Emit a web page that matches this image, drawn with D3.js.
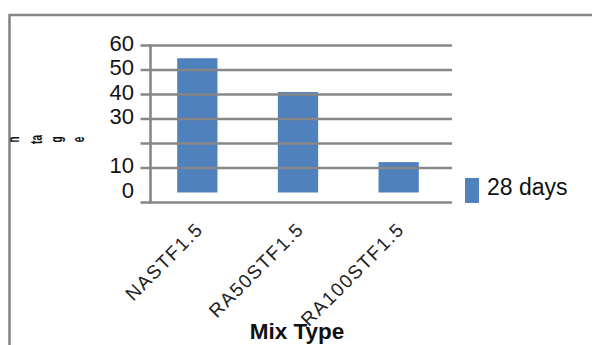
<!DOCTYPE html>
<html>
<head>
<meta charset="utf-8">
<script src="https://cdn.jsdelivr.net/npm/d3@7/dist/d3.min.js"></script>
<style>
  html, body { margin: 0; padding: 0; background: #fff; }
  svg { display: block; font-family: "Liberation Sans", Arial, sans-serif; }
</style>
</head>
<body>
<svg id="chart" width="592" height="345"></svg>
<script>
// Chart data
const categories = ["NASTF1.5", "RA50STF1.5", "RA100STF1.5"];
const values28 = [54.8, 41.0, 12.4];
const seriesName = "28 days";
const gridValues = [10, 20, 30, 40, 50, 60];
const tickLabels = [0, 10, 30, 40, 50, 60];
const yTitleParts = ["n", "ta", "g", "e"];
const xTitle = "Mix Type";

const svg = d3.select("#chart");
const gray = "#878787";
const blue = "#4f81bd";

// Outer frame (top and left edges)
svg.append("line").attr("x1", 9.5).attr("x2", 592).attr("y1", 15).attr("y2", 15)
  .attr("stroke", gray).attr("stroke-width", 2.6);
svg.append("line").attr("x1", 9.5).attr("x2", 9.5).attr("y1", 14).attr("y2", 345)
  .attr("stroke", gray).attr("stroke-width", 2.6);

// Scales
const y = d3.scaleLinear().domain([0, 60]).range([192.5, 45.5]);
const x = d3.scaleBand().domain(categories).range([147, 449])
  .paddingInner(0.6).paddingOuter(0.3);

const axisX = 150.5;
const gridRight = 452;
const baseY = y(0) + 10;

// Bars
svg.append("g").selectAll("rect").data(categories).join("rect")
  .attr("x", d => x(d))
  .attr("width", x.bandwidth())
  .attr("y", (d, i) => y(values28[i]))
  .attr("height", (d, i) => y(0) - y(values28[i]))
  .attr("fill", blue);

// Gridlines (drawn over the bars, extending left as tick marks)
svg.append("g").selectAll("line").data(gridValues).join("line")
  .attr("x1", axisX - 10).attr("x2", gridRight)
  .attr("y1", d => y(d)).attr("y2", d => y(d))
  .attr("stroke", gray).attr("stroke-width", 2.6);

// Category axis line
svg.append("line").attr("x1", axisX - 10).attr("x2", gridRight)
  .attr("y1", baseY).attr("y2", baseY)
  .attr("stroke", gray).attr("stroke-width", 2.6);

// Value axis line
svg.append("line").attr("x1", axisX).attr("x2", axisX)
  .attr("y1", y(60) - 1).attr("y2", baseY + 1)
  .attr("stroke", gray).attr("stroke-width", 2.6);

// Value tick labels
svg.append("g").selectAll("text").data(tickLabels).join("text")
  .attr("x", 134).attr("y", d => y(d) + 5)
  .attr("text-anchor", "end")
  .attr("font-size", 22).attr("fill", "#111")
  .text(d => d);

// Category labels, rotated
svg.append("g").selectAll("text").data(categories).join("text")
  .attr("transform", d => `translate(${x(d) + x.bandwidth() / 2 + 7},${baseY + 28}) rotate(-45)`)
  .attr("text-anchor", "end")
  .attr("font-size", 19).attr("letter-spacing", 1.5).attr("fill", "#222")
  .text(d => d);

// Axis title
svg.append("text").attr("x", 297).attr("y", 339)
  .attr("text-anchor", "middle").attr("font-size", 22.5).attr("font-weight", "bold")
  .attr("fill", "#111").text(xTitle);

// Vertical title fragments
const yTitleX = [14, 37, 57, 79];
svg.append("g").selectAll("text").data(yTitleParts).join("text")
  .attr("transform", (d, i) => `translate(${yTitleX[i]},139.5) rotate(-90) scale(1,1.6)`)
  .attr("text-anchor", "middle").attr("dominant-baseline", "central")
  .attr("font-size", 10).attr("font-weight", "bold").attr("fill", "#111")
  .text(d => d);

// Legend
const legend = svg.append("g").attr("transform", "translate(465,178)");
legend.append("rect").attr("width", 14).attr("height", 25).attr("fill", blue);
legend.append("text").attr("x", 22).attr("y", 16.5)
  .attr("font-size", 23).attr("fill", "#111").text(seriesName);
</script>
</body>
</html>
